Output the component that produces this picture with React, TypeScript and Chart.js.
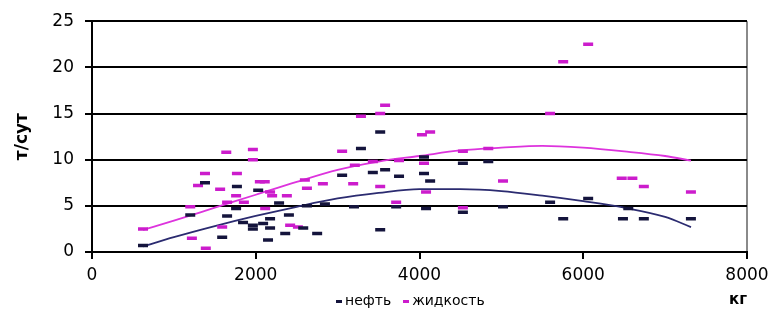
import React, { useEffect, useRef } from "react";
import { Chart, registerables } from "chart.js";

Chart.register(...registerables);

const xTicks = [0, 2000, 4000, 6000, 8000];
const yTicks = [0, 5, 10, 15, 20, 25];

const oilX = [623, 1200, 1380, 1590, 1650, 1760, 1770, 1845, 1965, 1965, 2030, 2090, 2150, 2175, 2175, 2285, 2360, 2405, 2580, 2750, 2625, 2845, 3055, 3200, 3285, 3430, 3520, 3580, 3520, 3715, 3750, 4055, 4130, 4055, 4080, 4530, 4530, 4840, 5020, 5595, 5755, 6060, 6485, 6550, 6740, 7315];
const oilY = [0.7, 4.0, 7.5, 1.6, 3.9, 4.7, 7.1, 3.2, 2.9, 2.5, 6.7, 3.1, 1.3, 3.6, 2.6, 5.3, 2.0, 4.0, 2.6, 2.0, 5.0, 5.2, 8.3, 4.9, 11.2, 8.6, 13.0, 8.9, 2.4, 4.9, 8.2, 8.5, 7.7, 10.3, 4.7, 9.6, 4.3, 9.8, 4.9, 5.4, 3.6, 5.8, 3.6, 4.7, 3.6, 3.6];

const liqX = [623, 1200, 1220, 1295, 1380, 1390, 1565, 1590, 1640, 1650, 1760, 1770, 1855, 1965, 1965, 2050, 2110, 2175, 2200, 2115, 2380, 2420, 2515, 2600, 2625, 2820, 3055, 3190, 3210, 3285, 3430, 3520, 3580, 3520, 3715, 3750, 4030, 4130, 4055, 4080, 4530, 4530, 4840, 5020, 5595, 5755, 6060, 6470, 6600, 6740, 7315];
const liqY = [2.5, 4.9, 1.5, 7.2, 8.5, 0.4, 6.8, 2.7, 10.8, 5.4, 6.1, 8.5, 5.4, 11.1, 10.0, 7.6, 7.6, 6.5, 6.1, 4.7, 6.1, 2.9, 2.7, 7.8, 6.9, 7.4, 10.9, 7.4, 9.4, 14.7, 9.8, 15.0, 15.9, 7.1, 5.4, 9.9, 12.7, 13.0, 9.6, 6.5, 10.9, 4.8, 11.2, 7.7, 15.0, 20.6, 22.5, 8.0, 8.0, 7.1, 6.5];

const trendX = [623, 1000, 1500, 2000, 2500, 3000, 3500, 4000, 4500, 5000, 5500, 6000, 6500, 7000, 7316];
const oilTrendY = [0.6, 1.6, 2.8, 3.9, 4.9, 5.8, 6.4, 6.8, 6.8, 6.6, 6.1, 5.5, 4.8, 3.8, 2.7];
const liqTrendY = [2.4, 3.4, 4.8, 6.2, 7.6, 8.9, 9.8, 10.4, 11.0, 11.3, 11.5, 11.3, 10.9, 10.4, 9.9];

const seriesNames = ["нефть", "жидкость"];
const xTitle = "кг";
const yTitle = "т/сут";

const OIL = "#14143c";
const LIQ = "#cc1ccc";
const OIL_LINE = "#2b2b70";
const LIQ_LINE = "#dd33dd";
const FONT = "'DejaVu Sans', sans-serif";

const pts = (xs: number[], ys: number[]) => xs.map((x, i) => ({ x, y: ys[i] }));

export default function App() {
  const ref = useRef<HTMLCanvasElement | null>(null);

  useEffect(() => {
    if (!ref.current) return;
    const chart = new Chart(ref.current, {
      type: "scatter",
      data: {
        datasets: [
          {
            label: seriesNames[0],
            data: pts(oilX, oilY),
            pointStyle: "line",
            pointRadius: 5,
            pointBorderWidth: 3.5,
            borderColor: OIL,
            backgroundColor: OIL,
            showLine: false,
          },
          {
            label: seriesNames[1],
            data: pts(liqX, liqY),
            pointStyle: "line",
            pointRadius: 5,
            pointBorderWidth: 3.5,
            borderColor: LIQ,
            backgroundColor: LIQ,
            showLine: false,
          },
          {
            label: "trend-oil",
            data: pts(trendX, oilTrendY),
            showLine: true,
            pointRadius: 0,
            borderColor: OIL_LINE,
            borderWidth: 1.8,
            cubicInterpolationMode: "monotone",
          },
          {
            label: "trend-liq",
            data: pts(trendX, liqTrendY),
            showLine: true,
            pointRadius: 0,
            borderColor: LIQ_LINE,
            borderWidth: 1.8,
            cubicInterpolationMode: "monotone",
          },
        ],
      },
      options: {
        animation: false,
        responsive: false,
        layout: { padding: { left: 0, top: 20, right: 30, bottom: 0 } },
        plugins: { legend: { display: false }, tooltip: { enabled: false } },
        scales: {
          x: {
            type: "linear",
            min: 0,
            max: 8000,
            afterBuildTicks: (s: any) => {
              s.ticks = xTicks.map((v) => ({ value: v }));
            },
            afterFit: (s: any) => {
              s.height = 68;
            },
            ticks: {
              color: "#000",
              font: { family: FONT, size: 17 },
              padding: 6,
              maxRotation: 0,
              callback: (v: any) => String(v),
            },
            grid: {
              drawOnChartArea: true,
              color: (c: any) => (c.tick && c.tick.value === 8000 ? "#8a8a8a" : "rgba(0,0,0,0)"),
              tickColor: "#000",
              tickLength: 7,
              lineWidth: 2,
            },
            border: { color: "#000", width: 2 },
            title: {
              display: true,
              text: xTitle,
              align: "end",
              color: "#000",
              font: { family: FONT, size: 15, weight: "bold" },
              padding: { top: 0, bottom: 11 },
            },
          },
          y: {
            type: "linear",
            min: 0,
            max: 25,
            afterBuildTicks: (s: any) => {
              s.ticks = yTicks.map((v) => ({ value: v }));
            },
            afterFit: (s: any) => {
              s.width = 92;
            },
            ticks: {
              color: "#000",
              font: { family: FONT, size: 17 },
              padding: 11,
            },
            grid: {
              color: "#000",
              lineWidth: 2,
              tickLength: 7,
            },
            border: { color: "#000", width: 2 },
            title: {
              display: true,
              text: yTitle,
              color: "#000",
              font: { family: FONT, size: 17, weight: "bold" },
              padding: { top: 12, bottom: 0 },
            },
          },
        },
      },
    });
    return () => chart.destroy();
  }, []);

  const legendText: React.CSSProperties = {
    fontFamily: FONT,
    fontSize: 14,
    color: "#000",
    lineHeight: "16px",
  };
  const mark = (c: string): React.CSSProperties => ({
    display: "inline-block",
    width: 6,
    height: 3,
    background: c,
    marginRight: 3,
    verticalAlign: "middle",
  });

  return (
    <div style={{ position: "absolute", left: 0, top: 0, width: 777, height: 320, background: "#fff" }}>
      <canvas ref={ref} width={777} height={320} style={{ display: "block" }} />
      <div style={{ position: "absolute", left: 336, top: 292, whiteSpace: "nowrap", ...legendText }}>
        <span style={mark(OIL)} />
        <span>{seriesNames[0]}</span>
        <span style={{ display: "inline-block", width: 12 }} />
        <span style={mark(LIQ)} />
        <span>{seriesNames[1]}</span>
      </div>
    </div>
  );
}
